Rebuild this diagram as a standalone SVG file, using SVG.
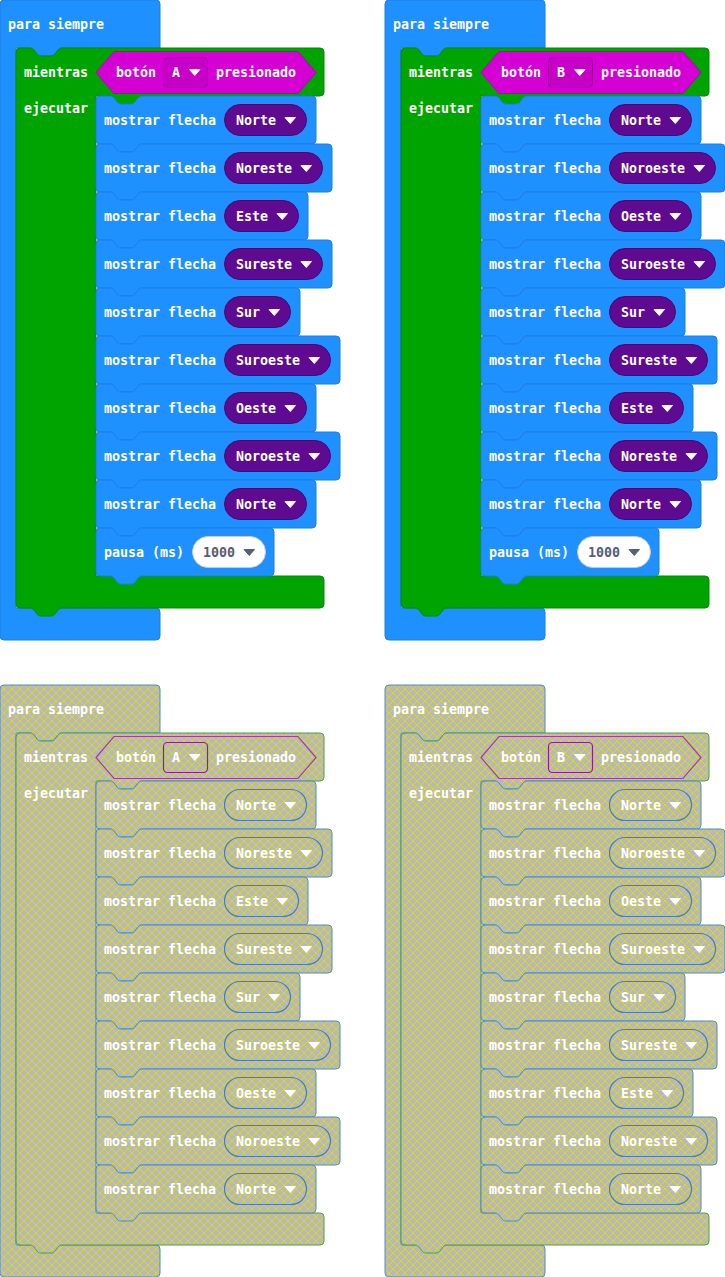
<svg xmlns="http://www.w3.org/2000/svg" xmlns:xlink="http://www.w3.org/1999/xlink" width="725" height="1277" viewBox="0 0 725 1277">
  <style>
    .basic{fill:#1e90ff;stroke:#1b7fe3;stroke-width:1}
    .loop{fill:#00a400;stroke:#008c00;stroke-width:1}
    .input{fill:#d400d4;stroke:#b300b3;stroke-width:1}
    .inputdd{fill:#c600c6;stroke:#a000a0;stroke-width:1}
    .apill{fill:#5e0a91;stroke:#4a0873;stroke-width:1}
    .npill{fill:#ffffff;stroke:#c6cad3;stroke-width:1}
    .h-basic{fill:url(#hatch);stroke:#4d8bd1;stroke-width:1}
    .h-loop{fill:url(#hatch);stroke:#4e9c4e;stroke-width:1}
    .h-input{fill:url(#hatch);stroke:#a23ca2;stroke-width:1.2}
    .h-inputdd{fill:url(#hatch);stroke:#8f1f8f;stroke-width:1.2}
    .h-pill{fill:url(#hatch);stroke:#4a7db4;stroke-width:1.2}
    .lbl{font-family:"DejaVu Sans Mono","Liberation Mono",monospace;font-weight:bold;font-size:13.3px;fill:#ffffff}
    .num{fill:#575e75}
    .caret{fill:#ffffff;stroke:#ffffff;stroke-width:1;stroke-linejoin:round}
    .caret-dk{fill:#575e75;stroke:#575e75;stroke-width:1;stroke-linejoin:round}
  </style>
  <defs>
    <pattern id="hatch" width="8" height="8" patternUnits="userSpaceOnUse">
      <rect width="8" height="8" fill="#b9b9b4"/>
      <path d="M-1,-1 L9,9 M9,-1 L-1,9" stroke="#d8d82c" stroke-width="1"/>
    </pattern>
    <!-- "para siempre" C-shape, long (with pause) and short variants -->
    <path id="forever-long" d="M0,4 a4,4 0 0 1 4,-4 H156 a4,4 0 0 1 4,4 V48 H62 c-2,0 -3,1 -4,2 l-3,4 c-1,1 -2,2 -4,2 h-10 c-2,0 -3,-1 -4,-2 l-3,-4 c-1,-1 -2,-2 -4,-2 H16 V608 H156 a4,4 0 0 1 4,4 V636 a4,4 0 0 1 -4,4 H4 a4,4 0 0 1 -4,-4 Z"/>
    <path id="forever-short" d="M0,4 a4,4 0 0 1 4,-4 H156 a4,4 0 0 1 4,4 V48 H62 c-2,0 -3,1 -4,2 l-3,4 c-1,1 -2,2 -4,2 h-10 c-2,0 -3,-1 -4,-2 l-3,-4 c-1,-1 -2,-2 -4,-2 H16 V560 H156 a4,4 0 0 1 4,4 V588 a4,4 0 0 1 -4,4 H4 a4,4 0 0 1 -4,-4 Z"/>
    <!-- "mientras" loop C-shape -->
    <path id="while-long" d="M16,52 a4,4 0 0 1 4,-4 h10 c2,0 3,1 4,2 l3,4 c1,1 2,2 4,2 h10 c2,0 3,-1 4,-2 l3,-4 c1,-1 2,-2 4,-2 H320 a4,4 0 0 1 4,4 V92 a4,4 0 0 1 -4,4 H142 c-2,0 -3,1 -4,2 l-3,4 c-1,1 -2,2 -4,2 h-10 c-2,0 -3,-1 -4,-2 l-3,-4 c-1,-1 -2,-2 -4,-2 H96 V576 H320 a4,4 0 0 1 4,4 V604 a4,4 0 0 1 -4,4 H62 c-2,0 -3,1 -4,2 l-3,4 c-1,1 -2,2 -4,2 h-10 c-2,0 -3,-1 -4,-2 l-3,-4 c-1,-1 -2,-2 -4,-2 H20 a4,4 0 0 1 -4,-4 Z"/>
    <path id="while-short" d="M16,52 a4,4 0 0 1 4,-4 h10 c2,0 3,1 4,2 l3,4 c1,1 2,2 4,2 h10 c2,0 3,-1 4,-2 l3,-4 c1,-1 2,-2 4,-2 H320 a4,4 0 0 1 4,4 V92 a4,4 0 0 1 -4,4 H142 c-2,0 -3,1 -4,2 l-3,4 c-1,1 -2,2 -4,2 h-10 c-2,0 -3,-1 -4,-2 l-3,-4 c-1,-1 -2,-2 -4,-2 H96 V528 H320 a4,4 0 0 1 4,4 V556 a4,4 0 0 1 -4,4 H62 c-2,0 -3,1 -4,2 l-3,4 c-1,1 -2,2 -4,2 h-10 c-2,0 -3,-1 -4,-2 l-3,-4 c-1,-1 -2,-2 -4,-2 H20 a4,4 0 0 1 -4,-4 Z"/>
    <!-- statement blocks by width -->
    <path id="st-178" d="M0,4 a4,4 0 0 1 4,-4 h10 c2,0 3,1 4,2 l3,4 c1,1 2,2 4,2 h10 c2,0 3,-1 4,-2 l3,-4 c1,-1 2,-2 4,-2 H174 a4,4 0 0 1 4,4 V44 a4,4 0 0 1 -4,4 H46 c-2,0 -3,1 -4,2 l-3,4 c-1,1 -2,2 -4,2 h-10 c-2,0 -3,-1 -4,-2 l-3,-4 c-1,-1 -2,-2 -4,-2 H4 a4,4 0 0 1 -4,-4 Z"/>
    <path id="st-204" d="M0,4 a4,4 0 0 1 4,-4 h10 c2,0 3,1 4,2 l3,4 c1,1 2,2 4,2 h10 c2,0 3,-1 4,-2 l3,-4 c1,-1 2,-2 4,-2 H200 a4,4 0 0 1 4,4 V44 a4,4 0 0 1 -4,4 H46 c-2,0 -3,1 -4,2 l-3,4 c-1,1 -2,2 -4,2 h-10 c-2,0 -3,-1 -4,-2 l-3,-4 c-1,-1 -2,-2 -4,-2 H4 a4,4 0 0 1 -4,-4 Z"/>
    <path id="st-212" d="M0,4 a4,4 0 0 1 4,-4 h10 c2,0 3,1 4,2 l3,4 c1,1 2,2 4,2 h10 c2,0 3,-1 4,-2 l3,-4 c1,-1 2,-2 4,-2 H208 a4,4 0 0 1 4,4 V44 a4,4 0 0 1 -4,4 H46 c-2,0 -3,1 -4,2 l-3,4 c-1,1 -2,2 -4,2 h-10 c-2,0 -3,-1 -4,-2 l-3,-4 c-1,-1 -2,-2 -4,-2 H4 a4,4 0 0 1 -4,-4 Z"/>
    <path id="st-220" d="M0,4 a4,4 0 0 1 4,-4 h10 c2,0 3,1 4,2 l3,4 c1,1 2,2 4,2 h10 c2,0 3,-1 4,-2 l3,-4 c1,-1 2,-2 4,-2 H216 a4,4 0 0 1 4,4 V44 a4,4 0 0 1 -4,4 H46 c-2,0 -3,1 -4,2 l-3,4 c-1,1 -2,2 -4,2 h-10 c-2,0 -3,-1 -4,-2 l-3,-4 c-1,-1 -2,-2 -4,-2 H4 a4,4 0 0 1 -4,-4 Z"/>
    <path id="st-236" d="M0,4 a4,4 0 0 1 4,-4 h10 c2,0 3,1 4,2 l3,4 c1,1 2,2 4,2 h10 c2,0 3,-1 4,-2 l3,-4 c1,-1 2,-2 4,-2 H232 a4,4 0 0 1 4,4 V44 a4,4 0 0 1 -4,4 H46 c-2,0 -3,1 -4,2 l-3,4 c-1,1 -2,2 -4,2 h-10 c-2,0 -3,-1 -4,-2 l-3,-4 c-1,-1 -2,-2 -4,-2 H4 a4,4 0 0 1 -4,-4 Z"/>
    <path id="st-244" d="M0,4 a4,4 0 0 1 4,-4 h10 c2,0 3,1 4,2 l3,4 c1,1 2,2 4,2 h10 c2,0 3,-1 4,-2 l3,-4 c1,-1 2,-2 4,-2 H240 a4,4 0 0 1 4,4 V44 a4,4 0 0 1 -4,4 H46 c-2,0 -3,1 -4,2 l-3,4 c-1,1 -2,2 -4,2 h-10 c-2,0 -3,-1 -4,-2 l-3,-4 c-1,-1 -2,-2 -4,-2 H4 a4,4 0 0 1 -4,-4 Z"/>
    <!-- boolean hexagon and its button dropdown -->
    <path id="hex" d="M96,72.5 L114,51.5 H298 L316,72.5 L298,93.5 H114 Z"/>
    <rect id="btn-dd" x="163.5" y="57.5" width="44" height="30" rx="4"/>
    <path id="caret" d="M0,0 h10.5 l-5.25,6 z"/>
  </defs>

  <!-- ===== top left: button A ===== -->
  <g id="prog-a">
    <g id="a-forever"><use href="#forever-long" class="basic"/><text class="lbl" x="8" y="29">para siempre</text></g>
    <g id="a-while"><use href="#while-long" class="loop"/><text class="lbl" x="24" y="77">mientras</text><text class="lbl" x="24" y="113">ejecutar</text></g>
    <g id="a-button"><use href="#hex" class="input"/><text class="lbl" x="116" y="77">botón</text><use href="#btn-dd" class="inputdd"/><text class="lbl" x="172" y="77">A</text><use href="#caret" x="189.5" y="69.5" class="caret"/><text class="lbl" x="216" y="77">presionado</text></g>
    <g id="a-s1"><use href="#st-220" x="96" y="96" class="basic"/><text class="lbl" x="104" y="125">mostrar flecha</text><rect class="apill" x="224.5" y="104.5" width="82" height="31" rx="15.5"/><text class="lbl" x="236" y="125">Norte</text><use href="#caret" x="285" y="117.5" class="caret"/></g>
    <g id="a-s2"><use href="#st-236" x="96" y="144" class="basic"/><text class="lbl" x="104" y="173">mostrar flecha</text><rect class="apill" x="224.5" y="152.5" width="98" height="31" rx="15.5"/><text class="lbl" x="236" y="173">Noreste</text><use href="#caret" x="301" y="165.5" class="caret"/></g>
    <g id="a-s3"><use href="#st-212" x="96" y="192" class="basic"/><text class="lbl" x="104" y="221">mostrar flecha</text><rect class="apill" x="224.5" y="200.5" width="74" height="31" rx="15.5"/><text class="lbl" x="236" y="221">Este</text><use href="#caret" x="277" y="213.5" class="caret"/></g>
    <g id="a-s4"><use href="#st-236" x="96" y="240" class="basic"/><text class="lbl" x="104" y="269">mostrar flecha</text><rect class="apill" x="224.5" y="248.5" width="98" height="31" rx="15.5"/><text class="lbl" x="236" y="269">Sureste</text><use href="#caret" x="301" y="261.5" class="caret"/></g>
    <g id="a-s5"><use href="#st-204" x="96" y="288" class="basic"/><text class="lbl" x="104" y="317">mostrar flecha</text><rect class="apill" x="224.5" y="296.5" width="66" height="31" rx="15.5"/><text class="lbl" x="236" y="317">Sur</text><use href="#caret" x="269" y="309.5" class="caret"/></g>
    <g id="a-s6"><use href="#st-244" x="96" y="336" class="basic"/><text class="lbl" x="104" y="365">mostrar flecha</text><rect class="apill" x="224.5" y="344.5" width="106" height="31" rx="15.5"/><text class="lbl" x="236" y="365">Suroeste</text><use href="#caret" x="309" y="357.5" class="caret"/></g>
    <g id="a-s7"><use href="#st-220" x="96" y="384" class="basic"/><text class="lbl" x="104" y="413">mostrar flecha</text><rect class="apill" x="224.5" y="392.5" width="82" height="31" rx="15.5"/><text class="lbl" x="236" y="413">Oeste</text><use href="#caret" x="285" y="405.5" class="caret"/></g>
    <g id="a-s8"><use href="#st-244" x="96" y="432" class="basic"/><text class="lbl" x="104" y="461">mostrar flecha</text><rect class="apill" x="224.5" y="440.5" width="106" height="31" rx="15.5"/><text class="lbl" x="236" y="461">Noroeste</text><use href="#caret" x="309" y="453.5" class="caret"/></g>
    <g id="a-s9"><use href="#st-220" x="96" y="480" class="basic"/><text class="lbl" x="104" y="509">mostrar flecha</text><rect class="apill" x="224.5" y="488.5" width="82" height="31" rx="15.5"/><text class="lbl" x="236" y="509">Norte</text><use href="#caret" x="285" y="501.5" class="caret"/></g>
    <g id="a-pause"><use href="#st-178" x="96" y="528" class="basic"/><text class="lbl" x="104" y="557">pausa (ms)</text><rect class="npill" x="192.5" y="536.5" width="73" height="31" rx="15.5"/><text class="lbl num" x="203" y="557">1000</text><use href="#caret" x="244" y="549.5" class="caret-dk"/></g>
  </g>

  <!-- ===== top right: button B ===== -->
  <g id="prog-b" transform="translate(385,0)">
    <g id="b-forever"><use href="#forever-long" class="basic"/><text class="lbl" x="8" y="29">para siempre</text></g>
    <g id="b-while"><use href="#while-long" class="loop"/><text class="lbl" x="24" y="77">mientras</text><text class="lbl" x="24" y="113">ejecutar</text></g>
    <g id="b-button"><use href="#hex" class="input"/><text class="lbl" x="116" y="77">botón</text><use href="#btn-dd" class="inputdd"/><text class="lbl" x="172" y="77">B</text><use href="#caret" x="189.5" y="69.5" class="caret"/><text class="lbl" x="216" y="77">presionado</text></g>
    <g id="b-s1"><use href="#st-220" x="96" y="96" class="basic"/><text class="lbl" x="104" y="125">mostrar flecha</text><rect class="apill" x="224.5" y="104.5" width="82" height="31" rx="15.5"/><text class="lbl" x="236" y="125">Norte</text><use href="#caret" x="285" y="117.5" class="caret"/></g>
    <g id="b-s2"><use href="#st-244" x="96" y="144" class="basic"/><text class="lbl" x="104" y="173">mostrar flecha</text><rect class="apill" x="224.5" y="152.5" width="106" height="31" rx="15.5"/><text class="lbl" x="236" y="173">Noroeste</text><use href="#caret" x="309" y="165.5" class="caret"/></g>
    <g id="b-s3"><use href="#st-220" x="96" y="192" class="basic"/><text class="lbl" x="104" y="221">mostrar flecha</text><rect class="apill" x="224.5" y="200.5" width="82" height="31" rx="15.5"/><text class="lbl" x="236" y="221">Oeste</text><use href="#caret" x="285" y="213.5" class="caret"/></g>
    <g id="b-s4"><use href="#st-244" x="96" y="240" class="basic"/><text class="lbl" x="104" y="269">mostrar flecha</text><rect class="apill" x="224.5" y="248.5" width="106" height="31" rx="15.5"/><text class="lbl" x="236" y="269">Suroeste</text><use href="#caret" x="309" y="261.5" class="caret"/></g>
    <g id="b-s5"><use href="#st-204" x="96" y="288" class="basic"/><text class="lbl" x="104" y="317">mostrar flecha</text><rect class="apill" x="224.5" y="296.5" width="66" height="31" rx="15.5"/><text class="lbl" x="236" y="317">Sur</text><use href="#caret" x="269" y="309.5" class="caret"/></g>
    <g id="b-s6"><use href="#st-236" x="96" y="336" class="basic"/><text class="lbl" x="104" y="365">mostrar flecha</text><rect class="apill" x="224.5" y="344.5" width="98" height="31" rx="15.5"/><text class="lbl" x="236" y="365">Sureste</text><use href="#caret" x="301" y="357.5" class="caret"/></g>
    <g id="b-s7"><use href="#st-212" x="96" y="384" class="basic"/><text class="lbl" x="104" y="413">mostrar flecha</text><rect class="apill" x="224.5" y="392.5" width="74" height="31" rx="15.5"/><text class="lbl" x="236" y="413">Este</text><use href="#caret" x="277" y="405.5" class="caret"/></g>
    <g id="b-s8"><use href="#st-236" x="96" y="432" class="basic"/><text class="lbl" x="104" y="461">mostrar flecha</text><rect class="apill" x="224.5" y="440.5" width="98" height="31" rx="15.5"/><text class="lbl" x="236" y="461">Noreste</text><use href="#caret" x="301" y="453.5" class="caret"/></g>
    <g id="b-s9"><use href="#st-220" x="96" y="480" class="basic"/><text class="lbl" x="104" y="509">mostrar flecha</text><rect class="apill" x="224.5" y="488.5" width="82" height="31" rx="15.5"/><text class="lbl" x="236" y="509">Norte</text><use href="#caret" x="285" y="501.5" class="caret"/></g>
    <g id="b-pause"><use href="#st-178" x="96" y="528" class="basic"/><text class="lbl" x="104" y="557">pausa (ms)</text><rect class="npill" x="192.5" y="536.5" width="73" height="31" rx="15.5"/><text class="lbl num" x="203" y="557">1000</text><use href="#caret" x="244" y="549.5" class="caret-dk"/></g>
  </g>

  <!-- ===== bottom left: button A, hatched ===== -->
  <g id="prog-a-hatched" transform="translate(0,685)">
    <g id="ha-forever"><use href="#forever-short" class="h-basic"/><text class="lbl" x="8" y="29">para siempre</text></g>
    <g id="ha-while"><use href="#while-short" class="h-loop"/><text class="lbl" x="24" y="77">mientras</text><text class="lbl" x="24" y="113">ejecutar</text></g>
    <g id="ha-button"><use href="#hex" class="h-input"/><text class="lbl" x="116" y="77">botón</text><use href="#btn-dd" class="h-inputdd"/><text class="lbl" x="172" y="77">A</text><use href="#caret" x="189.5" y="69.5" class="caret"/><text class="lbl" x="216" y="77">presionado</text></g>
    <g id="ha-s1"><use href="#st-220" x="96" y="96" class="h-basic"/><text class="lbl" x="104" y="125">mostrar flecha</text><rect class="h-pill" x="224.5" y="104.5" width="82" height="31" rx="15.5"/><text class="lbl" x="236" y="125">Norte</text><use href="#caret" x="285" y="117.5" class="caret"/></g>
    <g id="ha-s2"><use href="#st-236" x="96" y="144" class="h-basic"/><text class="lbl" x="104" y="173">mostrar flecha</text><rect class="h-pill" x="224.5" y="152.5" width="98" height="31" rx="15.5"/><text class="lbl" x="236" y="173">Noreste</text><use href="#caret" x="301" y="165.5" class="caret"/></g>
    <g id="ha-s3"><use href="#st-212" x="96" y="192" class="h-basic"/><text class="lbl" x="104" y="221">mostrar flecha</text><rect class="h-pill" x="224.5" y="200.5" width="74" height="31" rx="15.5"/><text class="lbl" x="236" y="221">Este</text><use href="#caret" x="277" y="213.5" class="caret"/></g>
    <g id="ha-s4"><use href="#st-236" x="96" y="240" class="h-basic"/><text class="lbl" x="104" y="269">mostrar flecha</text><rect class="h-pill" x="224.5" y="248.5" width="98" height="31" rx="15.5"/><text class="lbl" x="236" y="269">Sureste</text><use href="#caret" x="301" y="261.5" class="caret"/></g>
    <g id="ha-s5"><use href="#st-204" x="96" y="288" class="h-basic"/><text class="lbl" x="104" y="317">mostrar flecha</text><rect class="h-pill" x="224.5" y="296.5" width="66" height="31" rx="15.5"/><text class="lbl" x="236" y="317">Sur</text><use href="#caret" x="269" y="309.5" class="caret"/></g>
    <g id="ha-s6"><use href="#st-244" x="96" y="336" class="h-basic"/><text class="lbl" x="104" y="365">mostrar flecha</text><rect class="h-pill" x="224.5" y="344.5" width="106" height="31" rx="15.5"/><text class="lbl" x="236" y="365">Suroeste</text><use href="#caret" x="309" y="357.5" class="caret"/></g>
    <g id="ha-s7"><use href="#st-220" x="96" y="384" class="h-basic"/><text class="lbl" x="104" y="413">mostrar flecha</text><rect class="h-pill" x="224.5" y="392.5" width="82" height="31" rx="15.5"/><text class="lbl" x="236" y="413">Oeste</text><use href="#caret" x="285" y="405.5" class="caret"/></g>
    <g id="ha-s8"><use href="#st-244" x="96" y="432" class="h-basic"/><text class="lbl" x="104" y="461">mostrar flecha</text><rect class="h-pill" x="224.5" y="440.5" width="106" height="31" rx="15.5"/><text class="lbl" x="236" y="461">Noroeste</text><use href="#caret" x="309" y="453.5" class="caret"/></g>
    <g id="ha-s9"><use href="#st-220" x="96" y="480" class="h-basic"/><text class="lbl" x="104" y="509">mostrar flecha</text><rect class="h-pill" x="224.5" y="488.5" width="82" height="31" rx="15.5"/><text class="lbl" x="236" y="509">Norte</text><use href="#caret" x="285" y="501.5" class="caret"/></g>
  </g>

  <!-- ===== bottom right: button B, hatched ===== -->
  <g id="prog-b-hatched" transform="translate(385,685)">
    <g id="hb-forever"><use href="#forever-short" class="h-basic"/><text class="lbl" x="8" y="29">para siempre</text></g>
    <g id="hb-while"><use href="#while-short" class="h-loop"/><text class="lbl" x="24" y="77">mientras</text><text class="lbl" x="24" y="113">ejecutar</text></g>
    <g id="hb-button"><use href="#hex" class="h-input"/><text class="lbl" x="116" y="77">botón</text><use href="#btn-dd" class="h-inputdd"/><text class="lbl" x="172" y="77">B</text><use href="#caret" x="189.5" y="69.5" class="caret"/><text class="lbl" x="216" y="77">presionado</text></g>
    <g id="hb-s1"><use href="#st-220" x="96" y="96" class="h-basic"/><text class="lbl" x="104" y="125">mostrar flecha</text><rect class="h-pill" x="224.5" y="104.5" width="82" height="31" rx="15.5"/><text class="lbl" x="236" y="125">Norte</text><use href="#caret" x="285" y="117.5" class="caret"/></g>
    <g id="hb-s2"><use href="#st-244" x="96" y="144" class="h-basic"/><text class="lbl" x="104" y="173">mostrar flecha</text><rect class="h-pill" x="224.5" y="152.5" width="106" height="31" rx="15.5"/><text class="lbl" x="236" y="173">Noroeste</text><use href="#caret" x="309" y="165.5" class="caret"/></g>
    <g id="hb-s3"><use href="#st-220" x="96" y="192" class="h-basic"/><text class="lbl" x="104" y="221">mostrar flecha</text><rect class="h-pill" x="224.5" y="200.5" width="82" height="31" rx="15.5"/><text class="lbl" x="236" y="221">Oeste</text><use href="#caret" x="285" y="213.5" class="caret"/></g>
    <g id="hb-s4"><use href="#st-244" x="96" y="240" class="h-basic"/><text class="lbl" x="104" y="269">mostrar flecha</text><rect class="h-pill" x="224.5" y="248.5" width="106" height="31" rx="15.5"/><text class="lbl" x="236" y="269">Suroeste</text><use href="#caret" x="309" y="261.5" class="caret"/></g>
    <g id="hb-s5"><use href="#st-204" x="96" y="288" class="h-basic"/><text class="lbl" x="104" y="317">mostrar flecha</text><rect class="h-pill" x="224.5" y="296.5" width="66" height="31" rx="15.5"/><text class="lbl" x="236" y="317">Sur</text><use href="#caret" x="269" y="309.5" class="caret"/></g>
    <g id="hb-s6"><use href="#st-236" x="96" y="336" class="h-basic"/><text class="lbl" x="104" y="365">mostrar flecha</text><rect class="h-pill" x="224.5" y="344.5" width="98" height="31" rx="15.5"/><text class="lbl" x="236" y="365">Sureste</text><use href="#caret" x="301" y="357.5" class="caret"/></g>
    <g id="hb-s7"><use href="#st-212" x="96" y="384" class="h-basic"/><text class="lbl" x="104" y="413">mostrar flecha</text><rect class="h-pill" x="224.5" y="392.5" width="74" height="31" rx="15.5"/><text class="lbl" x="236" y="413">Este</text><use href="#caret" x="277" y="405.5" class="caret"/></g>
    <g id="hb-s8"><use href="#st-236" x="96" y="432" class="h-basic"/><text class="lbl" x="104" y="461">mostrar flecha</text><rect class="h-pill" x="224.5" y="440.5" width="98" height="31" rx="15.5"/><text class="lbl" x="236" y="461">Noreste</text><use href="#caret" x="301" y="453.5" class="caret"/></g>
    <g id="hb-s9"><use href="#st-220" x="96" y="480" class="h-basic"/><text class="lbl" x="104" y="509">mostrar flecha</text><rect class="h-pill" x="224.5" y="488.5" width="82" height="31" rx="15.5"/><text class="lbl" x="236" y="509">Norte</text><use href="#caret" x="285" y="501.5" class="caret"/></g>
  </g>
</svg>
